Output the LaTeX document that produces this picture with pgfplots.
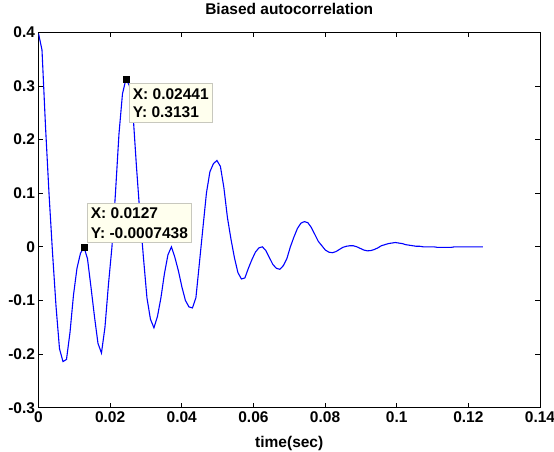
\documentclass[border=0pt]{standalone}
\usepackage{fontspec}
\setmainfont{Liberation Sans}
\usepackage{pgfplots}
\pgfplotsset{compat=1.18}
\usepackage{pgfplotstable}
\definecolor{tipfill}{RGB}{255,255,238}
\definecolor{tipedge}{RGB}{200,200,190}

% lag (s) vs biased autocorrelation, lags 0..127 at fs = 1024 Hz
\pgfplotstableread{
x r
0.000000 0.398
0.000977 0.367
0.001953 0.225
0.002930 0.100
0.003906 -0.010
0.004883 -0.110
0.005859 -0.190
0.006836 -0.214
0.007813 -0.210
0.008789 -0.160
0.009766 -0.090
0.010742 -0.040
0.011719 -0.012
0.012695 -0.0007438
0.013672 -0.022
0.014648 -0.075
0.015625 -0.130
0.016602 -0.180
0.017578 -0.198
0.018555 -0.150
0.019531 -0.070
0.020508 0.000
0.021484 0.100
0.022461 0.210
0.023438 0.285
0.024414 0.3131
0.025391 0.300
0.026367 0.250
0.027344 0.150
0.028320 0.060
0.029297 -0.020
0.030273 -0.095
0.031250 -0.135
0.032227 -0.151
0.033203 -0.130
0.034180 -0.095
0.035156 -0.050
0.036133 -0.015
0.037109 0.000
0.038086 -0.020
0.039063 -0.045
0.040039 -0.075
0.041016 -0.100
0.041992 -0.112
0.042969 -0.114
0.043945 -0.095
0.044922 -0.030
0.045898 0.035
0.046875 0.100
0.047852 0.140
0.048828 0.155
0.049805 0.161
0.050781 0.150
0.051758 0.110
0.052734 0.055
0.053711 0.015
0.054688 -0.020
0.055664 -0.048
0.056641 -0.060
0.057617 -0.058
0.058594 -0.040
0.059570 -0.024
0.060547 -0.010
0.061523 -0.002
0.062500 0.000
0.063477 -0.007
0.064453 -0.020
0.065430 -0.033
0.066406 -0.040
0.067383 -0.042
0.068359 -0.035
0.069336 -0.022
0.070313 0.000
0.071289 0.018
0.072266 0.034
0.073242 0.044
0.074219 0.047
0.075195 0.045
0.076172 0.036
0.077148 0.023
0.078125 0.010
0.079102 0.002
0.080078 -0.006
0.081055 -0.010
0.082031 -0.011
0.083008 -0.009
0.083984 -0.005
0.084961 -0.001
0.085938 0.001
0.086914 0.002
0.087891 0.002
0.088867 0.000
0.089844 -0.003
0.090820 -0.006
0.091797 -0.0075
0.092773 -0.007
0.093750 -0.005
0.094727 -0.002
0.095703 0.002
0.096680 0.004
0.097656 0.006
0.098633 0.007
0.099609 0.008
0.100586 0.007
0.101563 0.006
0.102539 0.004
0.103516 0.003
0.104492 0.002
0.105469 0.001
0.106445 0.001
0.107422 0.000
0.108398 0.000
0.109375 0.000
0.110352 0.000
0.111328 -0.001
0.112305 -0.001
0.113281 -0.001
0.114258 -0.001
0.115234 -0.001
0.116211 0.000
0.117188 0.000
0.118164 0.000
0.119141 0.000
0.120117 0.000
0.121094 0.000
0.122070 0.000
0.123047 0.000
0.124023 0.000
}\acfdata

\begin{document}
\begin{tikzpicture}
\begin{axis}[
    scale only axis,
    width=501.5pt, height=375.4pt,
    xmin=0, xmax=0.14, ymin=-0.3, ymax=0.4,
    xtick={0,0.02,0.04,0.06,0.08,0.1,0.12,0.14},
    xticklabels={0,0.02,0.04,0.06,0.08,0.1,0.12,0.14},
    ytick={-0.3,-0.2,-0.1,0,0.1,0.2,0.3,0.4},
    yticklabels={-0.3,-0.2,-0.1,0,0.1,0.2,0.3,0.4},
    tick align=inside, major tick length=5pt,
    every tick/.style={black, line width=0.8pt},
    axis line style={line width=1pt},
    ticklabel style={font=\fontsize{15.5}{18}\selectfont\bfseries},
    title={Biased autocorrelation},
    title style={font=\fontsize{15.5}{18}\selectfont\bfseries, at={(0.5,1)}, anchor=base, yshift=12pt},
    xlabel={time(sec)},
    xlabel style={font=\fontsize{15.5}{18}\selectfont\bfseries, at={(axis description cs:0.5,0)}, anchor=base, yshift=-40pt},
]
\addplot[blue, line width=1.1pt, mark=none] table[x=x, y=r] {\acfdata};
\addplot[only marks, mark=square*, mark size=3pt, black] coordinates {(0.024414,0.3131) (0.012695,-0.0007438)};
\node[anchor=north west, xshift=3pt, yshift=-4pt, fill=tipfill, draw=tipedge, line width=0.8pt,
      inner xsep=3.5pt, inner ysep=5pt, align=left, font=\fontsize{15.5}{18}\selectfont\bfseries]
      at (axis cs:0.024414,0.3131) {X: 0.02441\\Y: 0.3131};
\node[anchor=south west, xshift=3pt, yshift=4.5pt, fill=tipfill, draw=tipedge, line width=0.8pt,
      inner xsep=3.5pt, inner ysep=4pt, align=left, font=\fontsize{15.5}{20}\selectfont\bfseries]
      at (axis cs:0.012695,-0.0007438) {X: 0.0127\\Y: -0.0007438};
\end{axis}
\pgfresetboundingbox
\path (current axis.south west) ++(-38.5pt,-43.3pt) rectangle ++(554pt,451pt);
\end{tikzpicture}
\end{document}
